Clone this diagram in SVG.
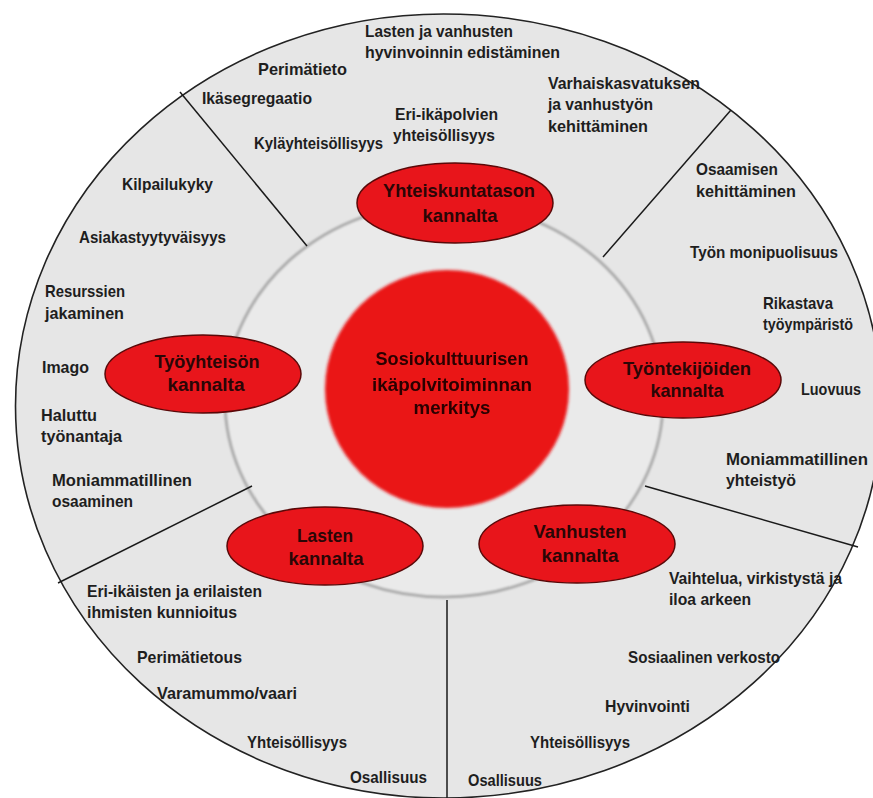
<svg xmlns="http://www.w3.org/2000/svg" width="873" height="798" viewBox="0 0 873 798">
<style>
.lbl{font-family:"Liberation Sans",Arial,sans-serif;font-weight:bold;font-size:16.2px;fill:#1e1e1e}
.nl{font-family:"Liberation Sans",Arial,sans-serif;font-weight:bold;font-size:18.5px;fill:#2a0606;text-anchor:middle}
.node{fill:#e8151b;stroke:#5a0808;stroke-width:1.5}
.div{stroke:#1a1a1a;stroke-width:1.5;fill:none}
</style>
<defs>
<filter id="soft" x="-20%" y="-20%" width="140%" height="140%"><feGaussianBlur stdDeviation="1.3"/></filter>
<filter id="softc" x="-10%" y="-10%" width="120%" height="120%"><feGaussianBlur stdDeviation="1.8"/></filter>
<filter id="txt" x="-5%" y="-20%" width="110%" height="140%"><feGaussianBlur stdDeviation="0.4"/></filter>
</defs>
<rect width="873" height="798" fill="#ffffff"/>
<g id="outer">
<path d="M15.5,406 A428,392 0 0 1 443.5,14 A438,392 0 0 1 881.5,406 A438,392 0 0 1 443.5,798 A428,392 0 0 1 15.5,406 Z" fill="#e6e6e6" stroke="#222" stroke-width="1.6"/>
</g>
<g id="ring">
<ellipse cx="444" cy="400" rx="219" ry="197" fill="#eaeaea" stroke="#ababab" stroke-width="3" filter="url(#soft)"/>
</g>
<g id="connectors">
<line class="div" x1="180" y1="92" x2="307" y2="246"/>
<line class="div" x1="731" y1="110" x2="603" y2="257"/>
<line class="div" x1="645" y1="486" x2="858" y2="547"/>
<line class="div" x1="447" y1="600" x2="447" y2="798"/>
<line class="div" x1="252" y1="486" x2="58" y2="583"/>
</g>
<g id="center">
<ellipse cx="447" cy="389" rx="122" ry="119" fill="#ea1218" filter="url(#softc)"/>
<g filter="url(#txt)">
<text class="nl" x="452" y="365" textLength="153" lengthAdjust="spacingAndGlyphs">Sosiokulttuurisen</text>
<text class="nl" x="452" y="391" textLength="160" lengthAdjust="spacingAndGlyphs">ikäpolvitoiminnan</text>
<text class="nl" x="452" y="414" textLength="77" lengthAdjust="spacingAndGlyphs">merkitys</text>
</g>
</g>
<g id="n-yhteiskunta">
<ellipse class="node" cx="455" cy="203" rx="98" ry="40"/>
<text class="nl" x="459" y="197" textLength="152" lengthAdjust="spacingAndGlyphs">Yhteiskuntatason</text>
<text class="nl" x="460" y="222" textLength="75" lengthAdjust="spacingAndGlyphs">kannalta</text>
</g>
<g id="n-tyoyhteiso">
<ellipse class="node" cx="203" cy="374" rx="98" ry="39"/>
<text class="nl" x="207" y="368" textLength="105" lengthAdjust="spacingAndGlyphs">Työyhteisön</text>
<text class="nl" x="206" y="391" textLength="77" lengthAdjust="spacingAndGlyphs">kannalta</text>
</g>
<g id="n-tyontekijat">
<ellipse class="node" cx="683" cy="380" rx="98" ry="38"/>
<text class="nl" x="687" y="375" textLength="128" lengthAdjust="spacingAndGlyphs">Työntekijöiden</text>
<text class="nl" x="687" y="397" textLength="73" lengthAdjust="spacingAndGlyphs">kannalta</text>
</g>
<g id="n-lapset">
<ellipse class="node" cx="325" cy="546" rx="98" ry="39"/>
<text class="nl" x="325" y="542" textLength="56" lengthAdjust="spacingAndGlyphs">Lasten</text>
<text class="nl" x="326" y="565" textLength="75" lengthAdjust="spacingAndGlyphs">kannalta</text>
</g>
<g id="n-vanhukset">
<ellipse class="node" cx="577" cy="544" rx="98" ry="39"/>
<text class="nl" x="580" y="538" textLength="93" lengthAdjust="spacingAndGlyphs">Vanhusten</text>
<text class="nl" x="580" y="562" textLength="77" lengthAdjust="spacingAndGlyphs">kannalta</text>
</g>
<g id="labels-yhteiskunta">
<text class="lbl" x="365" y="37" textLength="148" lengthAdjust="spacingAndGlyphs">Lasten ja vanhusten</text>
<text class="lbl" x="365" y="58" textLength="195" lengthAdjust="spacingAndGlyphs">hyvinvoinnin edistäminen</text>
<text class="lbl" x="258" y="75" textLength="89" lengthAdjust="spacingAndGlyphs">Perimätieto</text>
<text class="lbl" x="202" y="104" textLength="110" lengthAdjust="spacingAndGlyphs">Ikäsegregaatio</text>
<text class="lbl" x="395" y="120" textLength="103" lengthAdjust="spacingAndGlyphs">Eri-ikäpolvien</text>
<text class="lbl" x="393" y="141" textLength="102" lengthAdjust="spacingAndGlyphs">yhteisöllisyys</text>
<text class="lbl" x="254" y="149" textLength="129" lengthAdjust="spacingAndGlyphs">Kyläyhteisöllisyys</text>
<text class="lbl" x="548" y="89" textLength="152" lengthAdjust="spacingAndGlyphs">Varhaiskasvatuksen</text>
<text class="lbl" x="548" y="110" textLength="105" lengthAdjust="spacingAndGlyphs">ja vanhustyön</text>
<text class="lbl" x="548" y="132" textLength="100" lengthAdjust="spacingAndGlyphs">kehittäminen</text>
</g>
<g id="labels-tyoyhteiso">
<text class="lbl" x="122" y="190" textLength="91" lengthAdjust="spacingAndGlyphs">Kilpailukyky</text>
<text class="lbl" x="79" y="243" textLength="147" lengthAdjust="spacingAndGlyphs">Asiakastyytyväisyys</text>
<text class="lbl" x="45" y="297" textLength="80" lengthAdjust="spacingAndGlyphs">Resurssien</text>
<text class="lbl" x="45" y="319" textLength="79" lengthAdjust="spacingAndGlyphs">jakaminen</text>
<text class="lbl" x="42" y="373" textLength="47" lengthAdjust="spacingAndGlyphs">Imago</text>
<text class="lbl" x="41" y="421" textLength="56" lengthAdjust="spacingAndGlyphs">Haluttu</text>
<text class="lbl" x="41" y="442" textLength="81" lengthAdjust="spacingAndGlyphs">työnantaja</text>
<text class="lbl" x="52" y="486" textLength="140" lengthAdjust="spacingAndGlyphs">Moniammatillinen</text>
<text class="lbl" x="52" y="507" textLength="81" lengthAdjust="spacingAndGlyphs">osaaminen</text>
</g>
<g id="labels-lapset">
<text class="lbl" x="87" y="597" textLength="175" lengthAdjust="spacingAndGlyphs">Eri-ikäisten ja erilaisten</text>
<text class="lbl" x="87" y="618" textLength="150" lengthAdjust="spacingAndGlyphs">ihmisten kunnioitus</text>
<text class="lbl" x="137" y="663" textLength="105" lengthAdjust="spacingAndGlyphs">Perimätietous</text>
<text class="lbl" x="157" y="699" textLength="140" lengthAdjust="spacingAndGlyphs">Varamummo/vaari</text>
<text class="lbl" x="247" y="748" textLength="100" lengthAdjust="spacingAndGlyphs">Yhteisöllisyys</text>
<text class="lbl" x="350" y="783" textLength="77" lengthAdjust="spacingAndGlyphs">Osallisuus</text>
</g>
<g id="labels-tyontekijat">
<text class="lbl" x="696" y="175" textLength="82" lengthAdjust="spacingAndGlyphs">Osaamisen</text>
<text class="lbl" x="696" y="197" textLength="100" lengthAdjust="spacingAndGlyphs">kehittäminen</text>
<text class="lbl" x="690" y="258" textLength="148" lengthAdjust="spacingAndGlyphs">Työn monipuolisuus</text>
<text class="lbl" x="763" y="309" textLength="70" lengthAdjust="spacingAndGlyphs">Rikastava</text>
<text class="lbl" x="763" y="330" textLength="90" lengthAdjust="spacingAndGlyphs">työympäristö</text>
<text class="lbl" x="801" y="395" textLength="60" lengthAdjust="spacingAndGlyphs">Luovuus</text>
<text class="lbl" x="726" y="465" textLength="142" lengthAdjust="spacingAndGlyphs">Moniammatillinen</text>
<text class="lbl" x="726" y="486" textLength="70" lengthAdjust="spacingAndGlyphs">yhteistyö</text>
</g>
<g id="labels-vanhukset">
<text class="lbl" x="669" y="584" textLength="173" lengthAdjust="spacingAndGlyphs">Vaihtelua, virkistystä ja</text>
<text class="lbl" x="669" y="605" textLength="82" lengthAdjust="spacingAndGlyphs">iloa arkeen</text>
<text class="lbl" x="628" y="663" textLength="152" lengthAdjust="spacingAndGlyphs">Sosiaalinen verkosto</text>
<text class="lbl" x="605" y="712" textLength="85" lengthAdjust="spacingAndGlyphs">Hyvinvointi</text>
<text class="lbl" x="530" y="748" textLength="100" lengthAdjust="spacingAndGlyphs">Yhteisöllisyys</text>
<text class="lbl" x="468" y="786" textLength="74" lengthAdjust="spacingAndGlyphs">Osallisuus</text>
</g>
</svg>
